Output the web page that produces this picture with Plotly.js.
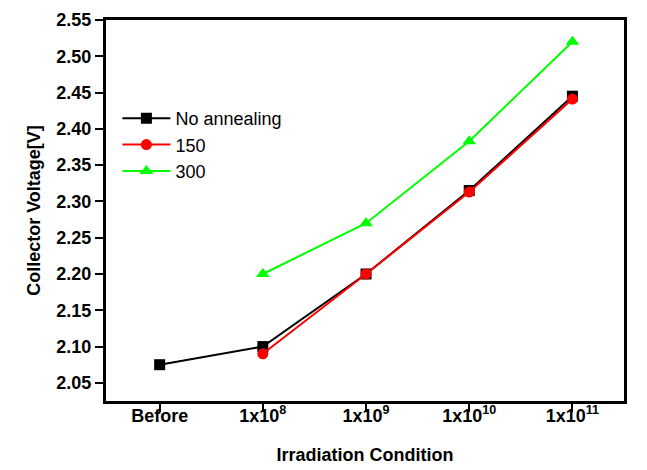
<!DOCTYPE html>
<html>
<head>
<meta charset="utf-8">
<script src="https://cdn.plot.ly/plotly-3.0.1.min.js"></script>
<style>html,body{margin:0;padding:0;background:#fff;}#chart{width:647px;height:470px;}</style>
</head>
<body>
<div id="chart"></div>
<script>
var categories = ["Before", "1x10<sup>8</sup>", "1x10<sup>9</sup>", "1x10<sup>10</sup>", "1x10<sup>11</sup>"];
var catIndex = [0, 1, 2, 3, 4];
var noAnnealing = [2.075, 2.100, 2.200, 2.315, 2.445];
var anneal150 = [null, 2.090, 2.200, 2.313, 2.441];
var anneal300 = [null, 2.200, 2.270, 2.383, 2.520];

var traces = [
  {x: catIndex, y: noAnnealing, name: "No annealing", mode: "lines+markers",
   line: {color: "#000000", width: 2}, marker: {symbol: "square", size: 11, color: "#000000"}},
  {x: catIndex, y: anneal150, name: "150", mode: "lines+markers", connectgaps: false,
   line: {color: "#ff0000", width: 2}, marker: {symbol: "circle", size: 11, color: "#ff0000"}},
  {x: catIndex, y: anneal300, name: "300", mode: "lines+markers", connectgaps: false,
   line: {color: "#00ff00", width: 2}, marker: {symbol: "triangle-up", size: 12, color: "#00ff00"}}
];

var font = "'Liberation Sans', Arial, sans-serif";
var layout = {
  width: 647, height: 470,
  margin: {l: 106, r: 23, t: 20, b: 69},
  paper_bgcolor: "#ffffff", plot_bgcolor: "#ffffff",
  font: {family: font, color: "#000000"},
  showlegend: true,
  legend: {x: 0.022, y: 0.79, xanchor: "left", yanchor: "top", bgcolor: "rgba(0,0,0,0)",
           font: {family: font, size: 18, color: "#000"}, tracegroupgap: 0, itemwidth: 48},
  xaxis: {
    range: [-0.52, 4.5], tickmode: "array", tickvals: catIndex, ticktext: categories,
    showgrid: false, zeroline: false, showline: true, linecolor: "#000", linewidth: 3, mirror: true,
    ticks: "outside", ticklen: 8, tickwidth: 2, tickcolor: "#000", ticklabelstandoff: -12,
    tickfont: {family: font, size: 18, color: "#000", weight: "bold"},
    title: {text: "<b>Irradiation Condition</b>", font: {family: font, size: 18, color: "#000"}, standoff: 24}
  },
  yaxis: {
    range: [2.025, 2.55], tickmode: "array", tickvals: [2.05,2.10,2.15,2.20,2.25,2.30,2.35,2.40,2.45,2.50,2.55],
    ticktext: ["2.05","2.10","2.15","2.20","2.25","2.30","2.35","2.40","2.45","2.50","2.55"],
    showgrid: false, zeroline: false, showline: true, linecolor: "#000", linewidth: 3, mirror: true,
    ticks: "outside", ticklen: 8, tickwidth: 2, tickcolor: "#000",
    tickfont: {family: font, size: 18, color: "#000", weight: "bold"},
    title: {text: "<b>Collector Voltage[V]</b>", font: {family: font, size: 18, color: "#000"}, standoff: 12}
  }
};
Plotly.newPlot("chart", traces, layout, {displayModeBar: false, staticPlot: true});
</script>
</body>
</html>
